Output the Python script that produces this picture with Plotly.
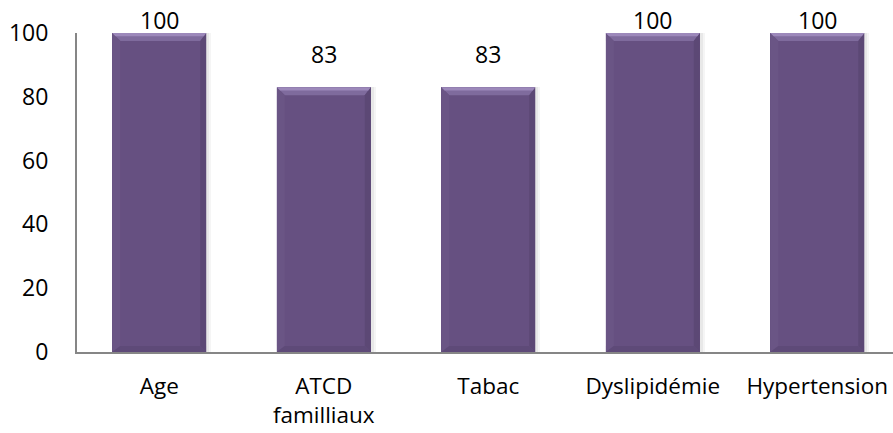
import plotly.graph_objects as go

# Facteurs de risque cardiovasculaire (%)
categories = ["Age", "ATCD<br>familliaux", "Tabac", "Dyslipidémie", "Hypertension"]
values = [100, 83, 83, 100, 100]
y_ticks = [0, 20, 40, 60, 80, 100]

W, H = 893, 433
M_L, M_R, M_T, M_B = 77, 0, 33, 81
X_RANGE = [-0.5, 4.46]
Y_RANGE = [0, 100]
BAR_W = 0.571
FACE = "#665081"
FONT = "Open Sans"

plot_w = W - M_L - M_R
plot_h = H - M_T - M_B
px_x = plot_w / (X_RANGE[1] - X_RANGE[0])   # pixels per category unit
px_y = plot_h / (Y_RANGE[1] - Y_RANGE[0])   # pixels per value unit

fig = go.Figure()
xs = list(range(len(categories)))

# faint drop shadow on the right of each bar
for off, alpha in ((5, 0.04), (3, 0.05)):
    fig.add_trace(go.Bar(
        x=[x + off / px_x for x in xs], y=values, width=BAR_W,
        marker=dict(color=f"rgba(0,0,0,{alpha})", line=dict(width=0)),
        hoverinfo="skip", showlegend=False,
    ))
fig.add_trace(go.Bar(
    x=xs, y=values, width=BAR_W,
    marker=dict(color=FACE, line=dict(width=0)),
    showlegend=False,
))

# bevel facets drawn as trapezoids around each bar face
bt = 8 / px_y     # top facet height
bb = 6 / px_y     # bottom facet height
bl = 8 / px_x     # left facet width
br = 6 / px_x     # right facet width
shapes = []
for x, v in zip(xs, values):
    l, r = x - BAR_W / 2, x + BAR_W / 2
    facets = [
        (f"M {l},{v} L {r},{v} L {r-br},{v-bt} L {l+bl},{v-bt} Z", "#7F6B9D"),
        (f"M {l},{v} L {l+bl},{v-bt} L {l+bl},{bb} L {l},0 Z", "#6A5585"),
        (f"M {r},{v} L {r-br},{v-bt} L {r-br},{bb} L {r},0 Z", "#5C4875"),
        (f"M {l},0 L {r},0 L {r-br},{bb} L {l+bl},{bb} Z", "#5E4A78"),
    ]
    for path, col in facets:
        shapes.append(dict(type="path", path=path, xref="x", yref="y",
                           fillcolor=col, line=dict(width=0), layer="above"))
    # highlight along the top edge
    shapes.append(dict(type="path",
                       path=f"M {l},{v} L {r},{v} L {r-br*0.4},{v-bt*0.4} L {l+bl*0.4},{v-bt*0.4} Z",
                       xref="x", yref="y", fillcolor="#9C88BA",
                       line=dict(width=0), layer="above"))

# value labels above the bars, held inside the chart at the top
annotations = []
for x, v in zip(xs, values):
    shift = min(20, (Y_RANGE[1] - v) * px_y)
    annotations.append(dict(x=x, y=v, xref="x", yref="y", text=str(v),
                            showarrow=False, yanchor="bottom", yshift=shift - 5,
                            font=dict(family=FONT, size=23, color="#000000")))

fig.update_layout(
    width=W, height=H,
    margin=dict(l=M_L, r=M_R, t=M_T, b=M_B, pad=0),
    paper_bgcolor="white", plot_bgcolor="white",
    barmode="overlay", bargap=0,
    shapes=shapes, annotations=annotations,
    font=dict(family=FONT, size=22.5, color="#000000"),
    xaxis=dict(
        range=X_RANGE, tickmode="array", tickvals=xs, ticktext=categories,
        showgrid=False, zeroline=False, showline=True, linecolor="#868686",
        linewidth=2, ticks="", ticklabelstandoff=13,
        tickfont=dict(family=FONT, size=22.5),
    ),
    yaxis=dict(
        range=Y_RANGE, tickmode="array", tickvals=y_ticks,
        showgrid=False, zeroline=False, showline=True, linecolor="#868686",
        linewidth=2, ticks="", ticklabelstandoff=22,
        tickfont=dict(family=FONT, size=23),
    ),
)

fig.write_html("out.html")
